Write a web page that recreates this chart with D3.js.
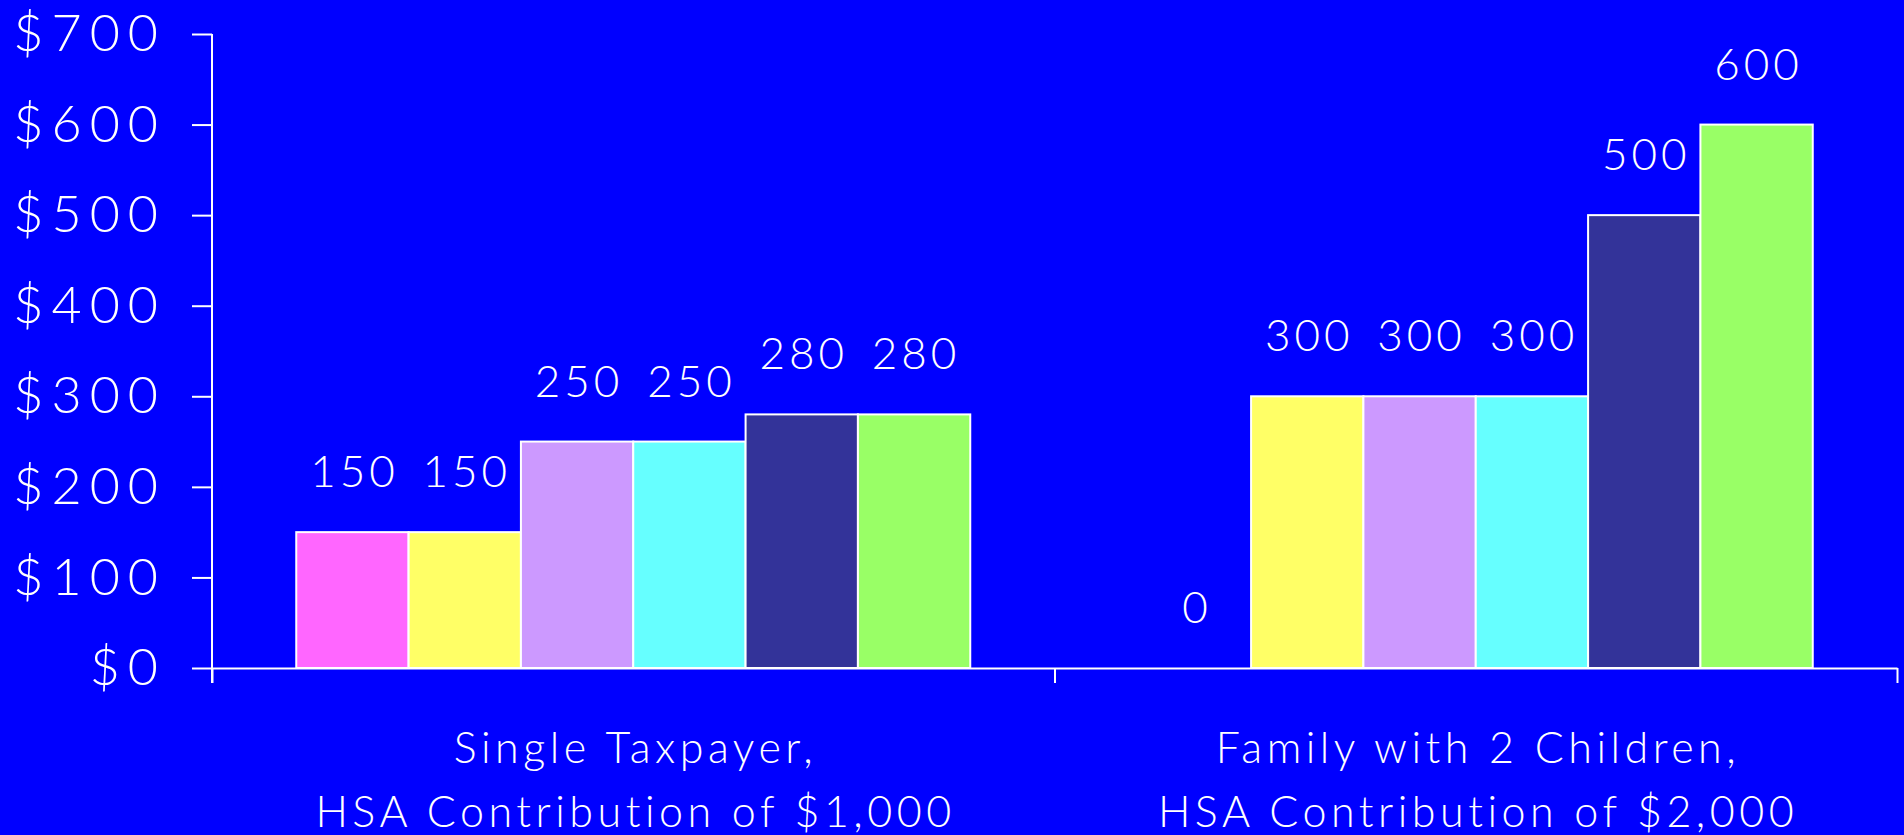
<!DOCTYPE html>
<html>
<head>
<meta charset="utf-8">
<script src="https://cdn.jsdelivr.net/npm/d3@7"></script>
<style>
  html, body { margin: 0; padding: 0; background: #0000FF; overflow: hidden; }
  svg { display: block; }
  text { font-family: Lato, "Open Sans", sans-serif; font-weight: 300; fill: #FFFFFF; }
</style>
</head>
<body>
<svg id="chart" width="1904" height="835"></svg>
<script>
// Household groups (two-line category labels)
const groupKeys = ["single", "family"];
const groupLines = [
  ["Single Taxpayer,", "HSA Contribution of $1,000"],
  ["Family with 2 Children,", "HSA Contribution of $2,000"]
];

// Six series, one value per group (tax saving in dollars)
const seriesKeys = ["s1", "s2", "s3", "s4", "s5", "s6"];
const s1Values = [150, 0];
const s2Values = [150, 300];
const s3Values = [250, 300];
const s4Values = [250, 300];
const s5Values = [280, 500];
const s6Values = [280, 600];
const seriesValues = [s1Values, s2Values, s3Values, s4Values, s5Values, s6Values];
const seriesColors = ["#FF66FF", "#FFFF66", "#CC99FF", "#66FFFF", "#333399", "#99FF66"];

// Y-axis ticks
const yTickValues = [0, 100, 200, 300, 400, 500, 600, 700];
const yTickLabels = ["$0", "$100", "$200", "$300", "$400", "$500", "$600", "$700"];

const svg = d3.select("#chart");
const plotLeft = 212, plotRight = 1897, plotTop = 34, plotBottom = 668;

const y = d3.scaleLinear().domain([0, 700]).range([plotBottom, plotTop]);
const x0 = d3.scaleBand().domain(groupKeys).range([plotLeft, plotRight]).padding(0);
const x1 = d3.scaleBand().domain(seriesKeys).range([0, x0.bandwidth()])
  .paddingInner(0).paddingOuter(0.75);
const color = d3.scaleOrdinal().domain(seriesKeys).range(seriesColors);

const rows = groupKeys.map((g, gi) => ({
  group: g,
  items: seriesKeys.map((k, si) => ({ key: k, value: seriesValues[si][gi] }))
}));

// Bars
const gGroups = svg.append("g").selectAll("g").data(rows).join("g")
  .attr("transform", d => `translate(${x0(d.group)},0)`);

gGroups.selectAll("rect").data(d => d.items).join("rect")
  .attr("x", d => x1(d.key))
  .attr("y", d => y(d.value))
  .attr("width", x1.bandwidth())
  .attr("height", d => y(0) - y(d.value))
  .attr("fill", d => color(d.key))
  .attr("stroke", "#FFFFFF")
  .attr("stroke-width", 2);

// Value labels
const valLs = 4;
gGroups.selectAll("text.val").data(d => d.items).join("text")
  .attr("class", "val")
  .attr("x", d => x1(d.key) + x1.bandwidth() / 2 + valLs / 2)
  .attr("y", d => y(d.value) - 45)
  .attr("text-anchor", "middle")
  .style("font-size", "44px")
  .style("letter-spacing", valLs + "px")
  .text(d => d.value);

// Y axis
const yAxis = d3.axisLeft(y)
  .tickValues(yTickValues)
  .tickFormat((d, i) => yTickLabels[i])
  .tickSize(20)
  .tickPadding(26);

const gy = svg.append("g").attr("transform", `translate(${plotLeft},0)`).call(yAxis);
gy.select(".domain").remove();
gy.selectAll(".tick line").attr("stroke", "#FFFFFF").attr("stroke-width", 2);
gy.selectAll(".tick text")
  .attr("fill", "#FFFFFF")
  .style("font-size", "52px")
  .style("letter-spacing", "8px")
  .style("font-weight", 300)
  .style("font-family", "Lato, 'Open Sans', sans-serif");
gy.append("line")
  .attr("x1", 0).attr("x2", 0)
  .attr("y1", y(700)).attr("y2", plotBottom + 15)
  .attr("stroke", "#FFFFFF").attr("stroke-width", 2);

// X axis: baseline with ticks at group boundaries
const xEdge = d3.scaleLinear().domain([0, groupKeys.length]).range([plotLeft, plotRight]);
const xAxis = d3.axisBottom(xEdge)
  .tickValues(d3.range(groupKeys.length + 1))
  .tickFormat("")
  .tickSize(15)
  .tickSizeOuter(0);
const gx = svg.append("g").attr("transform", `translate(0,${plotBottom})`).call(xAxis);
gx.select(".domain").attr("stroke", "#FFFFFF").attr("stroke-width", 2);
gx.selectAll(".tick line").attr("stroke", "#FFFFFF").attr("stroke-width", 2);
gx.selectAll(".tick text").remove();

// Category labels
const catLs = 4.5;
const cat = svg.append("g").selectAll("text").data(groupKeys).join("text")
  .attr("text-anchor", "middle")
  .style("font-size", "43px")
  .style("letter-spacing", catLs + "px");
cat.each(function (g, i) {
  const t = d3.select(this);
  const cx = x0(g) + x0.bandwidth() / 2 + catLs / 2;
  groupLines[i].forEach((line, li) => {
    t.append("tspan").attr("x", cx).attr("y", 763 + li * 64).text(line);
  });
});
</script>
</body>
</html>
